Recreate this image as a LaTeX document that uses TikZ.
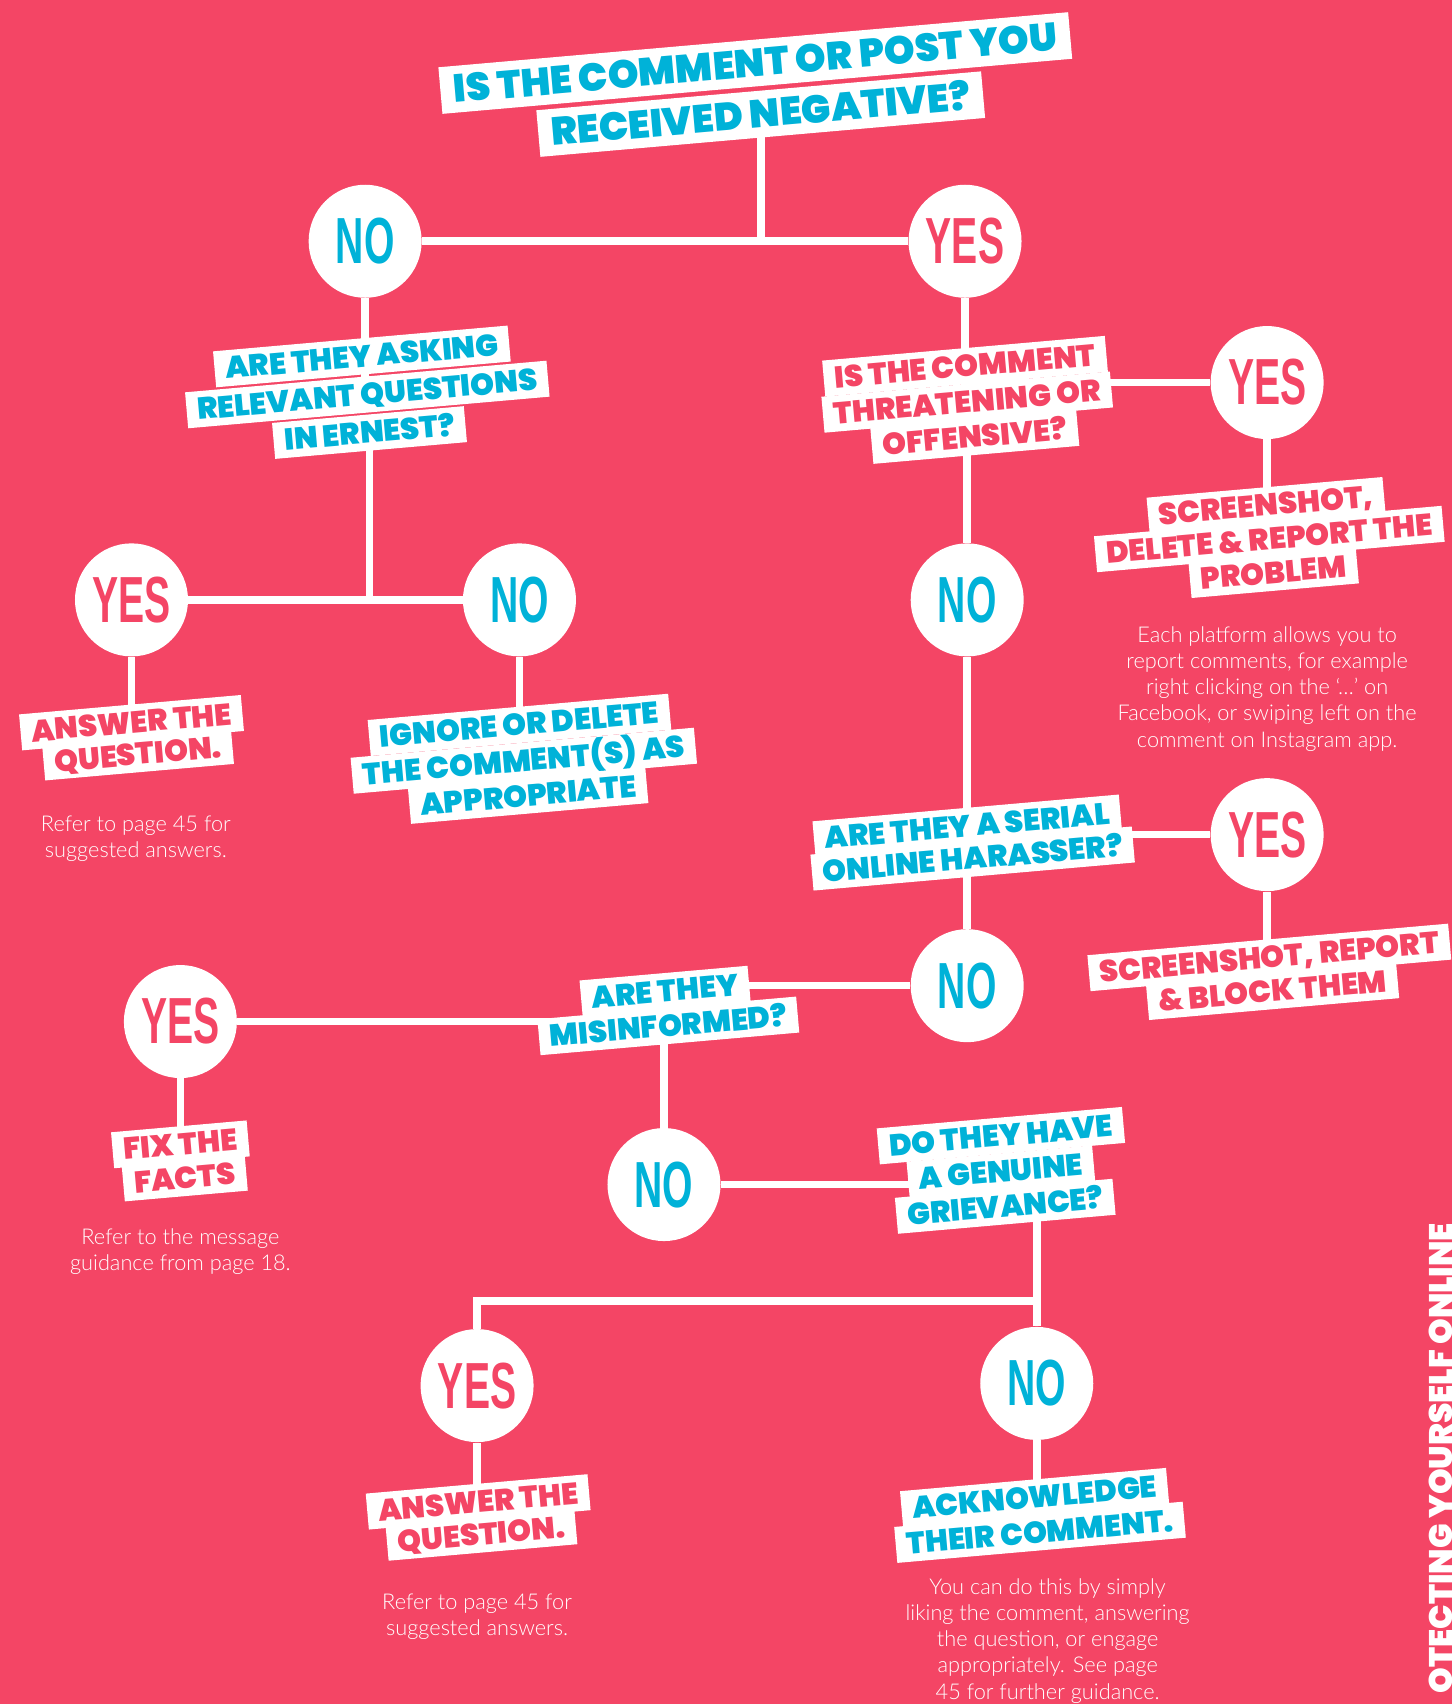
\documentclass[tikz,border=0pt]{standalone}
\usepackage{fontspec}
\usetikzlibrary{calc}
\setmainfont{Lato}
\IfFontExistsTF{Poppins Black}{\newfontfamily\heavy{Poppins Black}}{\newfontfamily\heavy{Poppins}[FakeBold=2]}
\IfFontExistsTF{Lato Light}{\newfontfamily\light{Lato Light}}{\newfontfamily\light{Lato}}
\newfontfamily\cond{Liberation Sans Bold}[FakeStretch=0.6]
\definecolor{pk}{RGB}{244,69,101}
\definecolor{bl}{RGB}{0,178,216}
\pgfdeclarelayer{back}
\pgfdeclarelayer{bg}
\pgfsetlayers{back,bg,main}
\tikzset{
  conn/.style={white, line width=3.5pt},
  circ/.style={circle, fill=white, minimum size=52pt, inner sep=0pt},
  yesc/.style={circ, text=pk, font=\cond\fontsize{30}{30}\selectfont},
  noc/.style={circ, text=bl, font=\cond\fontsize{30}{30}\selectfont},
  lbl/.style={fill=white, rotate=5, inner xsep=5pt, inner ysep=3pt, text height=10.2pt, text depth=0.4pt, font=\heavy\fontsize{14}{14}\selectfont},
  big/.style={lbl, inner xsep=6pt, inner ysep=4pt, text height=13pt, text depth=0.5pt, font=\heavy\fontsize{18}{18}\selectfont},
  qb/.style={lbl, text=bl},
  qp/.style={lbl, text=pk},
  note/.style={text=white, align=center, font=\light\fontsize{10}{12}\selectfont}
}
\begin{document}
\begin{tikzpicture}[x=0.5pt, y=-0.5pt]
\useasboundingbox (0,0) rectangle (1336,1568);
\begin{pgfonlayer}{back}
\fill[pk] (0,0) rectangle (1336,1568);
\end{pgfonlayer}

% title
\node[big, text=bl] (title1) at (695,58) {IS THE COMMENT OR POST YOU};
\node[big, text=bl] (title2) at (700,105) {RECEIVED NEGATIVE?};

\node[noc] (no1) at (336,222) {NO};
\node[yesc] (yes1) at (888,222) {YES};

% left branch
\node[qb] (q2a) at (333,328) {ARE THEY ASKING};
\node[qb] (q2b) at (338,363) {RELEVANT QUESTIONS};
\node[qb] (q2c) at (340,398) {IN ERNEST?};
\node[yesc] (yes2) at (121,552) {YES};
\node[noc] (no2) at (478,552) {NO};
\node[qp] (a1a) at (121,665) {ANSWER THE};
\node[qp] (a1b) at (127,694) {QUESTION.};
\node[note] (ref1) at (125,772) {Refer to page 45 for\\suggested answers.};
\node[qb] (ig1a) at (478,667) {IGNORE OR DELETE};
\node[qb] (ig1b) at (482,700) {THE COMMENT(S) AS};
\node[qb] (ig1c) at (486,732) {APPROPRIATE};

% right branch
\node[qp] (q3a) at (888,337) {IS THE COMMENT};
\node[qp] (q3b) at (890,370) {THREATENING OR};
\node[qp] (q3c) at (897,402) {OFFENSIVE?};
\node[yesc] (yes3) at (1166,352) {YES};
\node[qp] (s1a) at (1165,465) {SCREENSHOT,};
\node[qp] (s1b) at (1168,496) {DELETE \& REPORT THE};
\node[qp] (s1c) at (1172,527) {PROBLEM};
\node[note] (ref2) at (1166,634) {Each platform allows you to\\report comments, for example\\right clicking on the ‘…’ on\\Facebook, or swiping left on the\\comment on Instagram app.};
\node[noc] (no3) at (890,552) {NO};

\node[qb] (q4a) at (890,760) {ARE THEY A SERIAL};
\node[qb] (q4b) at (895,790) {ONLINE HARASSER?};
\node[yesc] (yes4) at (1166,768) {YES};
\node[qp] (s2a) at (1168,881) {SCREENSHOT, REPORT};
\node[qp] (s2b) at (1171,912) {\& BLOCK THEM};
\node[noc] (no4) at (890,907) {NO};

\node[qb] (q5a) at (612,912) {ARE THEY};
\node[qb] (q5b) at (615,944) {MISINFORMED?};
\node[yesc] (yes5) at (166,940) {YES};
\node[qp] (f1a) at (166,1053) {FIX THE};
\node[qp] (f1b) at (170,1084) {FACTS};
\node[note] (ref3) at (166,1152) {Refer to the message\\guidance from page 18.};
\node[noc] (no5) at (611,1090) {NO};

\node[qb] (q6a) at (921,1045) {DO THEY HAVE};
\node[qb] (q6b) at (921,1078) {A GENUINE};
\node[qb] (q6c) at (925,1110) {GRIEVANCE?};
\node[yesc] (yes6) at (439,1275) {YES};
\node[noc] (no6) at (954,1273) {NO};
\coordinate (j6) at (954,1197);
\node[qp] (a2a) at (440,1382) {ANSWER THE};
\node[qp] (a2b) at (443,1412) {QUESTION.};
\node[note] (ref4) at (439,1488) {Refer to page 45 for\\suggested answers.};
\node[qb] (ack1a) at (952,1378) {ACKNOWLEDGE};
\node[qb] (ack1b) at (957,1410) {THEIR COMMENT.};
\node[note] (ref5) at (964,1510) {You can do this by simply\\liking the comment, answering\\the question, or engage\\appropriately. See page\\45 for further guidance.};

\node[rotate=90, anchor=east, text=white, inner sep=0pt, font=\heavy\fontsize{15}{15}\selectfont] (side) at (1326,1125) {OTECTING YOURSELF ONLINE};

\begin{pgfonlayer}{bg}
\draw[conn] (title2.center) -- (title2.center |- no1.center);
\draw[conn] (no1) -- (yes1);
\draw[conn] (no1) -- (no1 |- q2b);
\draw[conn] (q2c.center) -- (q2c.center |- yes2.center);
\draw[conn] (yes2) -- (no2);
\draw[conn] (yes2) -- (yes2 |- a1a);
\draw[conn] (no2) -- (no2 |- ig1a);
\draw[conn] (yes1) -- (yes1 |- q3b);
\draw[conn] (yes3) -- (yes3 -| q3b);
\draw[conn] (yes3) -- (yes3 |- s1a);
\draw[conn] (no3) -- (no3 |- q3b);
\draw[conn] (no3) -- (no3 |- q4a);
\draw[conn] (yes4) -- (yes4 -| q4a);
\draw[conn] (yes4) -- (yes4 |- s2a);
\draw[conn] (no4) -- (no4 |- q4b);
\draw[conn] (no4) -- (no4 -| q5a);
\draw[conn] (yes5) -- (yes5 -| q5b);
\draw[conn] (yes5) -- (yes5 |- f1a);
\draw[conn] (no5) -- (no5 |- q5b);
\draw[conn] (no5) -- (no5 -| q6b);
\draw[conn] (no6) -- (no6 |- q6b);
\draw[conn] (yes6) |- (j6);
\draw[conn] (yes6) -- (yes6 |- a2a);
\draw[conn] (no6) -- (no6 |- ack1a);
\end{pgfonlayer}
\end{tikzpicture}
\end{document}
